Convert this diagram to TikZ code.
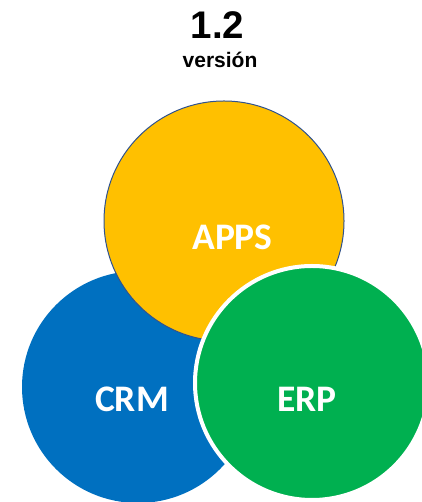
\documentclass[tikz,border=0pt]{standalone}
\usepackage{fontspec}
\setmainfont{Liberation Sans}
\newfontfamily\calibri{Carlito}
\usetikzlibrary{positioning,calc,shapes.geometric}
\definecolor{appsyellow}{HTML}{FFC000}
\definecolor{appsedge}{HTML}{2F528F}
\definecolor{crmblue}{HTML}{0070C0}
\definecolor{erpgreen}{HTML}{00B050}
\def \crmSize {232pt}
\def \appsSize {240pt}
\def \erpSize {234pt}
\tikzset{
 	circleblock/.style= {draw=none, circle, inner sep=0pt, outer sep=0pt},
 	circlelabel/.style= {anchor=base, text=white, inner sep=0pt, font=\calibri\bfseries\fontsize{37.5}{37.5}\selectfont},
 	titleblock/.style= {anchor=base, inner sep=0pt, font=\bfseries\fontsize{38.5}{38.5}\selectfont},
 	subtitleblock/.style= {anchor=base, inner sep=0pt, font=\bfseries\fontsize{21}{21}\selectfont}
 }
\begin{document}
\begin{tikzpicture}[x=1pt,y=1pt]
    \useasboundingbox (0,0) rectangle (421,502);

%%%%%%%%%%%%%%%%%%%%% Title %%%%%%%%%%%%%%%%%%%%%
    \node [titleblock] (V) at (217.5,463) {1.2};
    \node [subtitleblock] (Vtext) at (220,434) {versión};

%%%%%%%%%%%%%%%%%%%%% Circles %%%%%%%%%%%%%%%%%%%%%
    \node [circleblock, fill=crmblue, minimum size=\crmSize] (CRM) at (138,115) {};
    \node [circleblock, fill=appsyellow, draw=appsedge, line width=1pt, minimum size=\appsSize] (APPS) at (224,281) {};
    \node [circleblock, fill=erpgreen, draw=white, line width=4pt, minimum size=\erpSize] (ERP) at (312,119) {};

%%%%%%%%%%%%%%%%%%%%% Labels %%%%%%%%%%%%%%%%%%%%%
    \node [circlelabel] (APPSlabel) at ($(APPS.center)+(8.5,-29)$) {APPS};
    \node [circlelabel] (CRMlabel) at ($(CRM.center)+(-6,-25)$) {CRM};
    \node [circlelabel] (ERPlabel) at ($(ERP.center)+(-5,-29)$) {ERP};

\end{tikzpicture}
\end{document}
